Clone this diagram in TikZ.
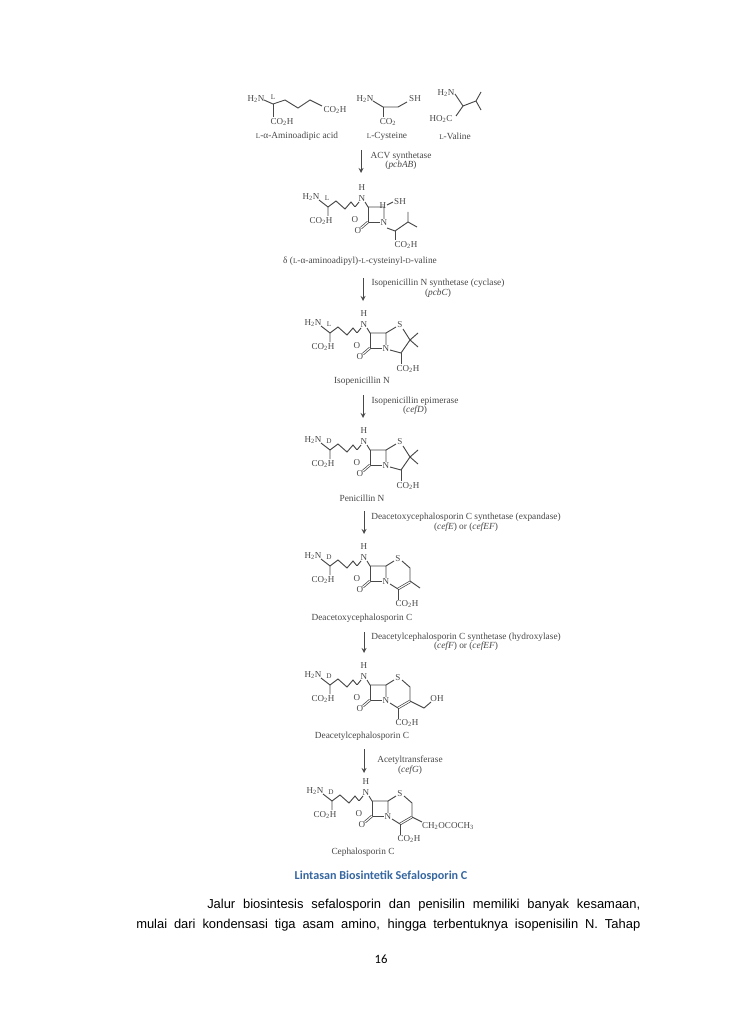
\documentclass[tikz,border=0pt]{standalone}
\usepackage{fontspec}
\setmainfont{Liberation Serif}
\newfontfamily\captionfont{Carlito}
\newfontfamily\bodyfont{Liberation Sans}
\definecolor{chemgray}{RGB}{72,72,72}
\definecolor{captionblue}{RGB}{54,103,160}
\newcommand{\cotwoh}{CO\textsubscript{2}H}
\newcommand{\htwon}{H\textsubscript{2}N}
\newcommand{\sml}[1]{{\fontsize{5.4}{6}\selectfont #1}}
\tikzset{
  bondline/.style={draw=chemgray,line width=.7pt},
  doublebond/.style={draw=chemgray,line width=.55pt,double,double distance=.8pt},
  atomlabel/.style={inner sep=0pt,text=chemgray,font=\fontsize{6.8}{8}\selectfont},
  compoundlabel/.style={inner sep=0pt,text=chemgray,font=\fontsize{7}{8}\selectfont},
  enzymelabel/.style={inner sep=0pt,text=chemgray,font=\fontsize{7}{8}\selectfont},
  reactarrow/.style={draw=chemgray,line width=.7pt,-stealth},
  core/.pic={
    \node [atomlabel] (h) at (0,-11) {H};
    \node [atomlabel] (n) at (0,0) {N};
    \node [atomlabel] (amine) at (-51,-2) {\htwon};
    \node [atomlabel] (stereo) at (-35,-1) {#1};
    \node [atomlabel] (acid) at (-41,22) {\cotwoh};
    \node [atomlabel] (amideo) at (-7,21) {O};
    \node [atomlabel] (lactamo) at (-4,32) {O};
    \node [atomlabel] (lactamn) at (22,24) {N};
    \draw [bondline] (-43,1) -- (-34,8) -- (-34,17);
    \draw [bondline] (-34,8) -- (-26,2) -- (-17,10) -- (-11,3) -- (-7,8) -- (-3,3);
    \draw [doublebond] (-7,8) -- (-7,16);
    \draw [bondline] (3,3) -- (6,8) -- (22,8) -- (22,20);
    \draw [bondline] (6,8) -- (6,23) -- (18,23);
    \draw [doublebond] (6,23) -- (-1,29);
  },
  penam/.pic={
    \node [atomlabel] (s) at (36,0) {S};
    \node [atomlabel] (acid) at (44,44) {\cotwoh};
    \draw [bondline] (22,8) -- (32,2);
    \draw [bondline] (39,4) -- (46,15) -- (54,8);
    \draw [bondline] (46,15) -- (54,22);
    \draw [bondline] (46,15) -- (37,28) -- (26,25);
    \draw [bondline] (37,28) -- (37,39);
  },
  cephem/.pic={
    \node [atomlabel] (s) at (34,1) {S};
    \node [atomlabel] (acid) at (43,46) {\cotwoh};
    \draw [bondline] (22,8) -- (30,3);
    \draw [bondline] (38,3) -- (46,10) -- (46,24);
    \draw [doublebond] (46,24) -- (34,31);
    \draw [bondline] (34,31) -- (26,26);
    \draw [bondline] (34,31) -- (34,42);
  }
}
\begin{document}
\begin{tikzpicture}[x=.75pt,y=-.75pt]
\useasboundingbox [fill=white] (0,0) rectangle (728,1030);

\node [atomlabel] (aminoadipamine) at (256,99) {\htwon};
\node [atomlabel] (aminoadipstereo) at (273,97) {\sml{L}};
\node [atomlabel] (aminoadipalpha) at (282,122) {\cotwoh};
\node [atomlabel] (aminoadipomega) at (335,110) {\cotwoh};
\node [compoundlabel] (aminoadipname) at (297,136) {\sml{L}-α-Aminoadipic acid};
\draw [bondline] (264,100) -- (273,104) -- (285,100) -- (298,108) -- (310,100) -- (322,106);
\draw [bondline] (273,104) -- (273,117);

\node [atomlabel] (cysamine) at (365,99) {\htwon};
\node [atomlabel] (cysthiol) at (415,99) {SH};
\node [atomlabel] (cysacid) at (388,122) {CO\textsubscript{2}};
\node [compoundlabel] (cysname) at (387,136) {\sml{L}-Cysteine};
\draw [bondline] (373,101) -- (383,107) -- (398,107) -- (407,102);
\draw [bondline] (383,107) -- (383,117);

\node [atomlabel] (valamine) at (446,93) {\htwon};
\node [atomlabel] (valacid) at (441,119) {HO\textsubscript{2}C};
\node [compoundlabel] (valname) at (455,136) {\sml{L}-Valine};
\draw [bondline] (455,94) -- (463,106) -- (476,101) -- (481,92);
\draw [bondline] (476,101) -- (481,110);
\draw [bondline] (463,106) -- (456,116);

\coordinate (arrowatop) at (361,150);
\coordinate (arrowabot) at (361,173);
\draw [reactarrow] (arrowatop) -- (arrowabot);
\node [enzymelabel] (acvname) at (401,156) {ACV synthetase};
\node [enzymelabel] (acvgene) at (401,165) {(\textit{pcbAB})};

\pic (acv) at (362,199) {core={\sml{L}}};
\node [atomlabel] (acvh) at (383,206) {H};
\node [atomlabel] (acvthiol) at (400,202) {SH};
\node [atomlabel] (acvacid) at (406,245) {\cotwoh};
\node [compoundlabel] (acvcompound) at (360,261) {δ (\sml{L}-α-aminoadipyl)-\sml{L}-cysteinyl-\sml{D}-valine};
\draw [bondline] (387,205) -- (393,202);
\draw [bondline] (387,228) -- (395,231) -- (408,222) -- (408,212);
\draw [bondline] (408,222) -- (417,227);
\draw [bondline] (395,231) -- (395,240);

\coordinate (arrowbtop) at (363,278);
\coordinate (arrowbbot) at (363,301);
\draw [reactarrow] (arrowbtop) -- (arrowbbot);
\node [enzymelabel] (ipnsname) at (438,283) {Isopenicillin N synthetase (cyclase)};
\node [enzymelabel] (ipnsgene) at (438,293) {(\textit{pcbC})};

\pic (isopen) at (364,325) {core={\sml{L}}};
\pic (isopenring) at (364,325) {penam};
\node [compoundlabel] (isopenname) at (362,381) {Isopenicillin N};

\coordinate (arrowctop) at (363,395);
\coordinate (arrowcbot) at (363,418);
\draw [reactarrow] (arrowctop) -- (arrowcbot);
\node [enzymelabel] (epimname) at (415,401) {Isopenicillin epimerase};
\node [enzymelabel] (epimgene) at (415,410) {(\textit{cefD})};

\pic (pen) at (364,442) {core={\sml{D}}};
\pic (penring) at (364,442) {penam};
\node [compoundlabel] (penname) at (362,498) {Penicillin N};

\coordinate (arrowdtop) at (364,511);
\coordinate (arrowdbot) at (364,534);
\draw [reactarrow] (arrowdtop) -- (arrowdbot);
\node [enzymelabel] (expname) at (466,517) {Deacetoxycephalosporin C synthetase (expandase)};
\node [enzymelabel] (expgene) at (466,527) {(\textit{cefE}) or (\textit{cefEF})};

\pic (daoc) at (364,558) {core={\sml{D}}};
\pic (daocring) at (364,558) {cephem};
\draw [bondline] (410,581) -- (420,588);
\node [compoundlabel] (daocname) at (362,618) {Deacetoxycephalosporin C};

\coordinate (arrowetop) at (364,632);
\coordinate (arrowebot) at (364,653);
\draw [reactarrow] (arrowetop) -- (arrowebot);
\node [enzymelabel] (hydname) at (466,637) {Deacetylcephalosporin C synthetase (hydroxylase)};
\node [enzymelabel] (hydgene) at (466,646) {(\textit{cefF}) or (\textit{cefEF})};

\pic (dac) at (364,677) {core={\sml{D}}};
\pic (dacring) at (364,677) {cephem};
\node [atomlabel] (dachydroxyl) at (437,699) {OH};
\draw [bondline] (410,701) -- (424,708) -- (431,702);
\node [compoundlabel] (dacname) at (362,736) {Deacetylcephalosporin C};

\coordinate (arrowftop) at (364,749);
\coordinate (arrowfbot) at (364,773);
\draw [reactarrow] (arrowftop) -- (arrowfbot);
\node [enzymelabel] (actname) at (410,760) {Acetyltransferase};
\node [enzymelabel] (actgene) at (410,770) {(\textit{cefG})};

\pic (cpc) at (366,793) {core={\sml{D}}};
\pic (cpcring) at (366,793) {cephem};
\node [atomlabel] (cpcester) at (448,826) {CH\textsubscript{2}OCOCH\textsubscript{3}};
\draw [bondline] (412,817) -- (422,822);
\node [compoundlabel] (cpcname) at (363,852) {Cephalosporin C};

\node [inner sep=0pt,text=captionblue,font=\captionfont\bfseries\fontsize{9.1}{11}\selectfont] (pathcaption) at (381,876) {Lintasan Biosintetik Sefalosporin C};
\node [inner sep=0pt,anchor=west,font=\bodyfont\fontsize{9.7}{11}\selectfont] (bodyfirst) at (207,905) {\makebox[324.75pt][s]{Jalur biosintesis sefalosporin dan penisilin memiliki banyak kesamaan,}};
\node [inner sep=0pt,anchor=west,font=\bodyfont\fontsize{9.7}{11}\selectfont] (bodysecond) at (136,925) {\makebox[378pt][s]{mulai dari kondensasi tiga asam amino, hingga terbentuknya isopenisilin N. Tahap}};
\node [inner sep=0pt,font=\captionfont\fontsize{9.5}{11}\selectfont] (pagenumber) at (381,959) {16};
\end{tikzpicture}
\end{document}
